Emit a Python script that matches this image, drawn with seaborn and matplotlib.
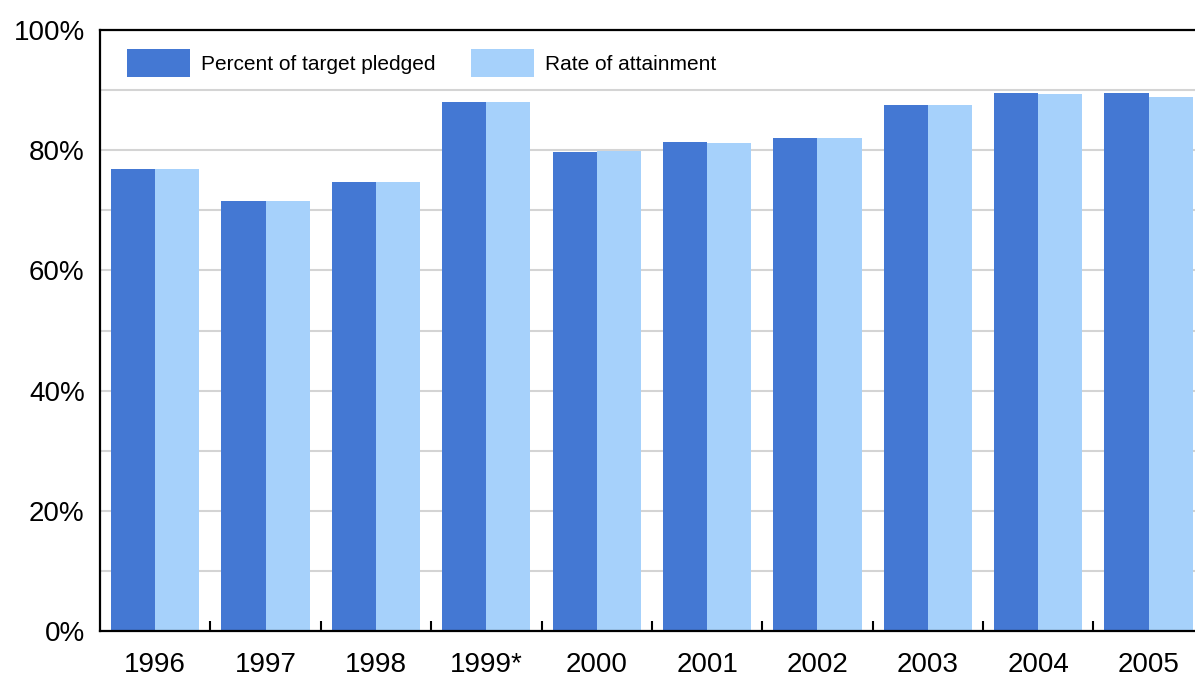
import pandas as pd
import numpy as np
import seaborn as sns
import matplotlib.pyplot as plt
from matplotlib.ticker import FixedLocator, FuncFormatter

# data
years = ["1996", "1997", "1998", "1999*", "2000", "2001", "2002", "2003", "2004", "2005"]
pledged = [76.9, 71.6, 74.7, 88.0, 79.7, 81.3, 82.1, 87.6, 89.6, 89.5]
attainment = [76.9, 71.6, 74.7, 88.0, 79.8, 81.2, 82.1, 87.6, 89.4, 88.9]
series_names = ["Percent of target pledged", "Rate of attainment"]

df = pd.DataFrame({
    "Year": years * 2,
    "Value": pledged + attainment,
    "Series": [series_names[0]] * len(years) + [series_names[1]] * len(years),
})

sns.set_style("white")
plt.rcParams["font.family"] = ["Liberation Sans", "DejaVu Sans"]
plt.rcParams["text.color"] = "black"
plt.rcParams["xtick.color"] = "black"
plt.rcParams["ytick.color"] = "black"

fig = plt.figure(figsize=(11.95, 6.81), dpi=100)
ax = fig.add_axes([100 / 1195, 1 - 631 / 681, 1 - 100 / 1195, 601 / 681])

sns.barplot(data=df, x="Year", y="Value", hue="Series",
            palette=["#4478D3", "#A6D1FB"], saturation=1,
            width=0.8, linewidth=0, ax=ax, zorder=2)

ax.set_ylim(0, 100)
ax.set_xlim(-0.5, 9.42)

# gridlines every 10%
ax.yaxis.set_major_locator(FixedLocator(np.arange(0, 101, 20)))
ax.yaxis.set_minor_locator(FixedLocator(np.arange(10, 100, 20)))
ax.yaxis.set_major_formatter(FuncFormatter(lambda v, p: f"{int(v)}%"))
ax.grid(axis="y", which="both", color="#d4d4d4", linewidth=1.5, zorder=0)
ax.set_axisbelow(True)

# x ticks on category boundaries, labels centred
ax.xaxis.set_minor_locator(FixedLocator(np.arange(0.5, 9, 1)))
ax.tick_params(axis="x", which="major", bottom=True, length=0, pad=15,
               labelsize=20, labelcolor="black")
ax.tick_params(axis="x", which="minor", bottom=True, direction="in",
               length=7.5, width=1.5, color="black")
ax.tick_params(axis="y", which="both", length=0, pad=11, labelsize=20,
               labelcolor="black")

for side in ["left", "bottom", "top"]:
    ax.spines[side].set_visible(True)
    ax.spines[side].set_color("black")
    ax.spines[side].set_linewidth(1.6)
ax.spines["right"].set_visible(False)

ax.set_xlabel("")
ax.set_ylabel("")

ax.legend(loc="upper left", bbox_to_anchor=(17 / 1095, (631 - 39) / 601),
          ncol=2, frameon=False, fontsize=15, borderpad=0,
          handlelength=3.0, handleheight=1.65, handletextpad=0.55,
          columnspacing=1.7)

fig.savefig("out.png", dpi=100)
